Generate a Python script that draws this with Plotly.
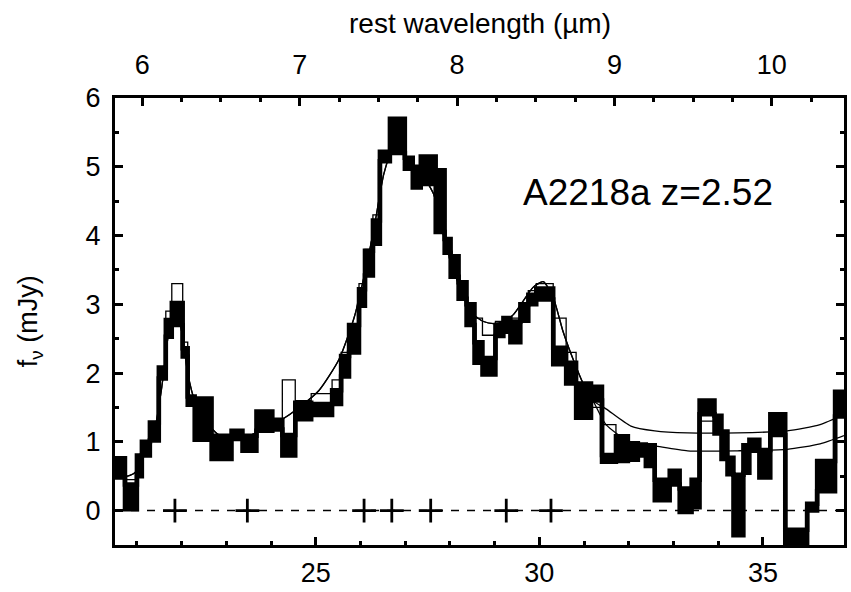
import plotly.graph_objects as go

Z1 = 3.52  # 1+z

# bin edges (observed wavelength, micron)
edges = [20.51, 20.733, 21.0, 21.111, 21.29, 21.49, 21.646, 21.78, 22.024, 22.136,
         22.292, 22.67, 23.116, 23.361, 23.673, 24.029, 24.252, 24.541, 24.898, 25.365,
         25.566, 25.744, 25.967, 26.1, 26.278, 26.434, 26.658, 26.992, 27.169, 27.348,
         27.682, 27.882, 28.016, 28.194, 28.372, 28.55, 28.728, 29.018, 29.196, 29.352,
         29.575, 29.753, 29.931, 30.31, 30.599, 30.822, 31.156, 31.401, 31.713, 31.98,
         32.203, 32.381, 32.581, 32.915, 33.138, 33.405, 33.583, 33.917, 34.073, 34.207,
         34.341, 34.563, 34.697, 34.92, 35.165, 35.499, 35.989, 36.212, 36.613, 36.813]

flux = [0.62, 0.2, 0.65, 0.9, 1.15, 2.0, 2.65, 2.86, 2.3, 1.6,
        1.33, 0.92, 1.1, 0.98, 1.3, 1.25, 0.95, 1.45, 1.47, 1.65,
        2.1, 2.5, 3.1, 3.6, 4.05, 5.15, 5.45, 5.05, 4.85, 4.95,
        4.5, 3.85, 3.55, 3.2, 2.85, 2.3, 2.1, 2.62, 2.7, 2.6,
        2.88, 3.07, 3.15, 2.25, 2.0, 1.6, 1.7, 0.76, 0.9, 0.86,
        0.88, 0.8, 0.3, 0.48, 0.15, 0.25, 1.5, 1.25, 0.95, 0.65,
        0.08, 0.75, 0.95, 0.68, 1.25, -0.4, 0.05, 0.5, 1.55]

err = [0.14, 0.18, 0.15, 0.1, 0.13, 0.08, 0.12, 0.16, 0.06, 0.06,
       0.3, 0.17, 0.06, 0.11, 0.14, 0.07, 0.15, 0.12, 0.08, 0.1,
       0.15, 0.2, 0.12, 0.18, 0.17, 0.07, 0.25, 0.08, 0.15, 0.2,
       0.45, 0.1, 0.15, 0.12, 0.15, 0.15, 0.12, 0.08, 0.1, 0.15,
       0.12, 0.07, 0.08, 0.12, 0.15, 0.25, 0.1, 0.05, 0.18, 0.12,
       0.08, 0.15, 0.15, 0.1, 0.17, 0.2, 0.1, 0.13, 0.2, 0.12,
       0.44, 0.2, 0.08, 0.2, 0.15, 0.12, 0.05, 0.22, 0.18]

flux_alt = [0.7, 0.45, 0.7, 0.95, 1.25, 2.0, 2.9, 3.3, 2.45, 1.6,
            1.6, 1.0, 1.15, 1.1, 1.3, 1.3, 1.9, 1.6, 1.7, 1.9,
            2.3, 2.7, 3.3, 3.8, 4.3, 5.2, 5.3, 5.0, 4.75, 4.75,
            4.2, 3.9, 3.6, 3.25, 2.95, 2.8, 2.55, 2.75, 2.75, 2.8,
            3.0, 3.2, 3.3, 2.8, 2.3, 1.8, 1.5, 1.25, 1.1, 1.0,
            0.95, 0.9, 0.3, 0.48, 0.15, 0.25, 1.3, 1.25, 0.95, 0.65,
            0.08, 0.75, 0.95, 0.68, 1.25, -0.4, 0.05, 0.5, 1.55]

# smooth model curves
model_x = [20.555, 20.733, 20.955, 21.178, 21.401, 21.557, 21.69, 21.78, 21.869, 22.002,
           22.136, 22.292, 22.514, 22.737, 22.96, 23.294, 23.739, 24.185, 24.63, 25.076,
           25.521, 25.855, 26.078, 26.301, 26.524, 26.746, 26.969, 27.192, 27.414, 27.637,
           27.86, 28.083, 28.305, 28.528, 28.751, 28.974, 29.196, 29.419, 29.641, 29.864,
           30.087, 30.31, 30.532, 30.755, 30.978, 31.2, 31.49, 32.047, 32.581, 33.316,
           34.43, 35.543, 36.278, 36.813]
model_hi = [0.75, 0.5, 0.55, 0.9, 1.2, 1.8, 2.5, 2.85, 2.95, 2.6,
            2.0, 1.6, 1.35, 1.15, 1.05, 1.05, 1.15, 1.3, 1.5, 1.75,
            2.2, 2.8, 3.4, 4.1, 4.9, 5.3, 5.2, 5.0, 4.85, 4.6,
            4.0, 3.5, 3.1, 2.85, 2.75, 2.72, 2.75, 2.85, 3.05, 3.25,
            3.33, 3.1, 2.6, 2.2, 1.85, 1.6, 1.48, 1.23, 1.16, 1.13,
            1.13, 1.16, 1.25, 1.4]
model_lo = [0.75, 0.5, 0.55, 0.9, 1.2, 1.8, 2.5, 2.85, 2.95, 2.6,
            2.0, 1.6, 1.35, 1.15, 1.05, 1.05, 1.15, 1.3, 1.5, 1.75,
            2.2, 2.8, 3.4, 4.1, 4.9, 5.3, 5.2, 5.0, 4.85, 4.6,
            4.0, 3.5, 3.1, 2.85, 2.75, 2.72, 2.75, 2.85, 3.05, 3.25,
            3.33, 3.1, 2.6, 2.2, 1.85, 1.6, 1.25, 0.99, 0.94, 0.87,
            0.87, 0.89, 0.97, 1.09]

# feature markers (observed wavelength)
feat_x = [21.85, 23.47, 26.08, 26.70, 27.57, 29.26, 30.26]

x_step = edges
lo_step = [f - e for f, e in zip(flux, err)]
hi_step = [f + e for f, e in zip(flux, err)]
lo_step = lo_step + [lo_step[-1]]
hi_step = hi_step + [hi_step[-1]]
alt_step = flux_alt + [flux_alt[-1]]

fig = go.Figure()

fig.add_trace(go.Scatter(x=model_x, y=model_hi, mode="lines",
                         line=dict(color="black", width=1.3, shape="spline", smoothing=0.6),
                         hoverinfo="skip"))
fig.add_trace(go.Scatter(x=model_x, y=model_lo, mode="lines",
                         line=dict(color="black", width=1.3, shape="spline", smoothing=0.6),
                         hoverinfo="skip"))
fig.add_trace(go.Scatter(x=x_step, y=alt_step, mode="lines",
                         line=dict(color="black", width=1.3, shape="hv"), hoverinfo="skip"))
fig.add_trace(go.Scatter(x=x_step, y=lo_step, mode="lines",
                         line=dict(color="black", width=4.5, shape="hv"), hoverinfo="skip"))
fig.add_trace(go.Scatter(x=x_step, y=hi_step, mode="lines", fill="tonexty", fillcolor="black",
                         line=dict(color="black", width=4.5, shape="hv"), hoverinfo="skip"))

fig.add_trace(go.Scatter(x=feat_x, y=[0] * len(feat_x), mode="markers",
                         marker=dict(symbol="cross-thin", size=17, color="black",
                                     line=dict(color="black", width=2.8)),
                         hoverinfo="skip"))
# invisible trace for the top (rest-frame) axis
fig.add_trace(go.Scatter(x=[v / Z1 for v in feat_x], y=[0] * len(feat_x), xaxis="x2",
                         mode="markers", marker=dict(opacity=0), hoverinfo="skip"))

fig.add_shape(type="line", xref="paper", yref="y", x0=0, x1=1, y0=0, y1=0,
              line=dict(color="black", width=1.5, dash="8px,8px"), layer="below")

axfont = dict(family="Liberation Sans, Arial", size=27, color="black")
xr = [edges[0], edges[-1]]

fig.update_layout(
    width=851, height=592,
    margin=dict(l=115, r=4, t=98, b=45),
    paper_bgcolor="white", plot_bgcolor="white",
    showlegend=False,
    xaxis=dict(range=xr, tickvals=[25, 30, 35], ticks="inside", ticklen=8, tickwidth=2.5,
               minor=dict(dtick=1, ticks="inside", ticklen=4, tickwidth=2.5, tickcolor="black"),
               tickcolor="black", showline=True, linewidth=3, linecolor="black",
               showgrid=False, zeroline=False, tickfont=axfont, ticklabelstandoff=2),
    xaxis2=dict(range=[xr[0] / Z1, xr[1] / Z1], overlaying="x", side="top", anchor="y",
                tickvals=[6, 7, 8, 9, 10], ticks="inside", ticklen=8, tickwidth=2.5,
                minor=dict(dtick=0.25, ticks="inside", ticklen=4, tickwidth=2.5, tickcolor="black"),
                tickcolor="black", showline=True, linewidth=3, linecolor="black",
                showgrid=False, zeroline=False, tickfont=axfont, ticklabelstandoff=10),
    yaxis=dict(range=[-0.5, 6], tickvals=[0, 1, 2, 3, 4, 5, 6], ticks="inside", ticklen=8,
               tickwidth=2.5, tickcolor="black",
               minor=dict(dtick=0.5, ticks="inside", ticklen=4, tickwidth=2.5, tickcolor="black"),
               showline=True, linewidth=3, linecolor="black", mirror="ticks",
               showgrid=False, zeroline=False, tickfont=axfont, ticklabelstandoff=6),
    annotations=[
        dict(text="rest wavelength (µm)", xref="paper", yref="paper", x=0.5, y=1.166,
             showarrow=False, font=dict(family="Liberation Sans, Arial", size=28, color="black"),
             xanchor="center", yanchor="middle"),
        dict(text="f<sub>ν</sub> (mJy)", xref="paper", yref="paper", x=-0.117, y=0.5,
             textangle=-90, showarrow=False, font=axfont, xanchor="center", yanchor="middle"),
        dict(text="A2218a z=2.52", xref="x", yref="y", x=29.6, y=4.62, showarrow=False,
             xanchor="left", yanchor="middle",
             font=dict(family="Liberation Sans, Arial", size=37, color="black")),
    ],
)

fig.write_html("out.html")
